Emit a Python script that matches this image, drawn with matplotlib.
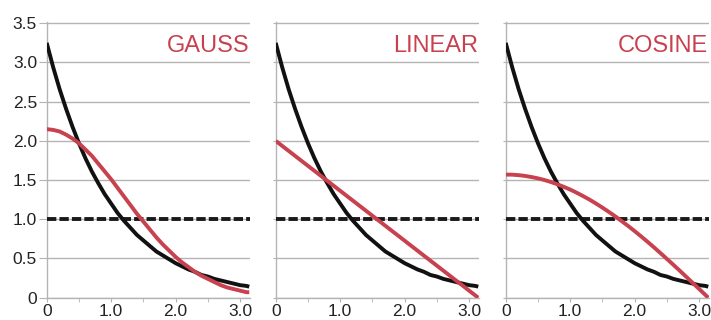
import matplotlib.pyplot as plt
from matplotlib.ticker import MultipleLocator, FixedLocator

plt.rcParams['font.family'] = ['Liberation Sans', 'DejaVu Sans']

# sample positions along x (0 .. pi)
x = [0.0, 0.1, 0.2, 0.3, 0.4, 0.5, 0.6, 0.7, 0.8, 0.9, 1.0, 1.1, 1.2, 1.3,
     1.4, 1.5, 1.6, 1.7, 1.8, 1.9, 2.0, 2.1, 2.2, 2.3, 2.4, 2.5, 2.6, 2.7,
     2.8, 2.9, 3.0, 3.1, 3.1416]

# black curve (same in all panels)
black = [3.25, 2.94, 2.66, 2.41, 2.18, 1.97, 1.78, 1.61, 1.46, 1.32, 1.20,
         1.08, 0.98, 0.89, 0.80, 0.73, 0.66, 0.59, 0.54, 0.49, 0.44, 0.40,
         0.36, 0.33, 0.29, 0.27, 0.24, 0.22, 0.20, 0.18, 0.16, 0.15, 0.14]

gauss = [2.15, 2.14, 2.12, 2.08, 2.03, 1.97, 1.89, 1.81, 1.71, 1.61, 1.51,
         1.40, 1.29, 1.18, 1.07, 0.97, 0.87, 0.77, 0.68, 0.60, 0.52, 0.45,
         0.39, 0.33, 0.28, 0.24, 0.20, 0.16, 0.13, 0.11, 0.09, 0.07, 0.07]

linear_x = [0.0, 3.1416]
linear = [2.0, 0.0]

cosine = [1.57, 1.569, 1.563, 1.553, 1.539, 1.522, 1.501, 1.476, 1.447,
          1.414, 1.379, 1.339, 1.296, 1.251, 1.201, 1.149, 1.094, 1.037,
          0.976, 0.914, 0.849, 0.782, 0.713, 0.642, 0.569, 0.495, 0.420,
          0.344, 0.267, 0.189, 0.111, 0.033, 0.0]

yticks = [0, 0.5, 1.0, 1.5, 2.0, 2.5, 3.0, 3.5]
ylabels = ['0', '0.5', '1.0', '1.5', '2.0', '2.5', '3.0', '3.5']
xticks = [0, 1, 2, 3]
xlabels = ['0', '1.0', '2.0', '3.0']

panels = [("GAUSS", x, gauss), ("LINEAR", linear_x, linear), ("COSINE", x, cosine)]
lefts = [0.0657, 0.3878, 0.7113]

red = '#c8414f'
grid_c = '#b4b4b4'

fig = plt.figure(figsize=(7.11, 3.2), dpi=100)

for i, (name, rx, ry) in enumerate(panels):
    ax = fig.add_axes([lefts[i], 0.0697, 0.2856, 0.8600])
    ax.set_xlim(0, 3.15)
    ax.set_ylim(0, 3.51)
    ax.yaxis.set_major_locator(FixedLocator(yticks))
    ax.xaxis.set_major_locator(FixedLocator(xticks))
    ax.xaxis.set_minor_locator(MultipleLocator(0.5))
    ax.grid(axis='y', color=grid_c, lw=1.0)
    ax.set_axisbelow(True)
    for s in ['top', 'right']:
        ax.spines[s].set_visible(False)
    for s in ['left', 'bottom']:
        ax.spines[s].set_color(grid_c)
        ax.spines[s].set_linewidth(1.0)

    ax.plot([0, 3.15], [1.0, 1.0], color='#1a1a1a', lw=2.8,
            dashes=(2.4, 0.8), zorder=3)
    ax.plot(x, black, color='#111111', lw=2.8, zorder=4, solid_capstyle='butt')
    ax.plot(rx, ry, color=red, lw=2.8, zorder=5, solid_capstyle='butt')

    ax.text(3.14, 3.14, name, color=red, fontsize=17, ha='right', va='baseline')

    ax.set_xticklabels(xlabels)
    ax.tick_params(axis='x', which='both', length=3, color=grid_c, labelsize=12.5,
                   labelcolor='#222222', pad=1.5)
    if i == 0:
        ax.set_yticklabels(ylabels)
        ax.tick_params(axis='y', length=6, color=grid_c, labelsize=12.5,
                       labelcolor='#222222', pad=1)
    else:
        ax.tick_params(axis='y', length=2.5, color=grid_c, labelleft=False)

fig.savefig('out.png', dpi=100)
